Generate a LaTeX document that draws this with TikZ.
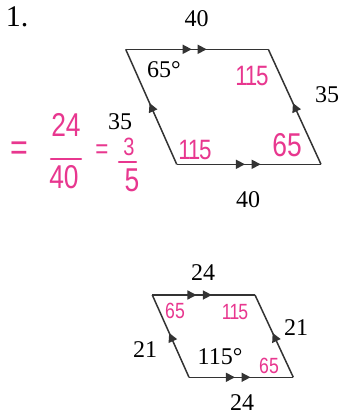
\documentclass[tikz,border=0pt]{standalone}
\usepackage{fontspec}
\setmainfont{Liberation Serif}
\newfontfamily\hand[FakeStretch=0.8]{Liberation Sans}
\usetikzlibrary{arrows.meta,decorations.markings}
\definecolor{ink}{HTML}{333333}
\definecolor{pen}{HTML}{E8378F}
\tikzset{
  side/.style={draw=ink, line width=1.5pt},
  mkone/.style={postaction={decorate,decoration={markings,
     mark=at position #1 with {\arrow[ink]{Triangle[length=9pt,width=9pt]}}}}},
  mktwo/.style 2 args={postaction={decorate,decoration={markings,
     mark=at position #1 with {\arrow[ink]{Triangle[length=9pt,width=9pt]}},
     mark=at position #2 with {\arrow[ink]{Triangle[length=9pt,width=9pt]}}}}},
  lab/.style={inner sep=0pt, text=black, font=\fontsize{24}{26}\selectfont},
  penbig/.style={inner sep=0pt, text=pen, font=\hand\fontsize{33}{35}\selectfont},
  penmid/.style={inner sep=0pt, text=pen, font=\hand\fontsize{28}{30}\selectfont},
  pensmall/.style={inner sep=0pt, text=pen, font=\hand\fontsize{22}{24}\selectfont},
  penline/.style={draw=pen, line width=2.4pt, line cap=round},
}
\begin{document}
\begin{tikzpicture}[x=1pt,y=-1pt]
\useasboundingbox (0,0) rectangle (341,417);
\fill[white] (0,0) rectangle (341,417);

\node[inner sep=0pt, font=\fontsize{30}{32}\selectfont] (num) at (17,17) {1.};

% top parallelogram
\coordinate (A) at (125.7,49.3);
\coordinate (B) at (268.3,49.3);
\coordinate (C) at (321,164.3);
\coordinate (D) at (176.7,164.3);
\draw[side, mktwo={0.463}{0.568}] (A) -- (B);
\draw[side, mktwo={0.473}{0.582}] (D) -- (C);
\draw[side, mkone={0.533}] (D) -- (A);
\draw[side, mkone={0.533}] (C) -- (B);

\node[lab] (t40a) at (196.7,18.5) {40};
\node[lab] (t40b) at (248,200) {40};
\node[lab] (t35r) at (327,95) {35};
\node[lab] (t35l) at (120,122) {35};
\node[lab] (t65) at (164,70) {65°};

\node[penmid] (p115a) at (252,76) {1\kern-3pt1\kern-1pt5};
\node[penmid] (p115b) at (195,150) {1\kern-3pt1\kern-1pt5};
\node[penbig] (p65a) at (287,145) {65};

% pink ratio
\node[inner sep=0pt, text=pen, font=\hand\fontsize{38}{40}\selectfont] (eqa) at (19,151) {=};
\node[penbig] (n24) at (66,125) {24};
\draw[penline] (51,159) -- (81,159);
\node[penbig] (n40) at (64,177) {40};
\node[penmid] (eqb) at (102,152) {=};
\node[inner sep=0pt, text=pen, font=\hand\fontsize{25}{27}\selectfont] (n3) at (129,147) {3};
\draw[penline] (119,162) -- (136,162);
\node[penbig] (n5) at (132,180) {5};

% bottom parallelogram
\coordinate (E) at (152.3,295);
\coordinate (F) at (255,295);
\coordinate (G) at (293.3,377.3);
\coordinate (H) at (189,377.3);
\draw[side, mktwo={0.43}{0.58}] (E) -- (F);
\draw[side, mktwo={0.44}{0.59}] (H) -- (G);
\draw[side, mkone={0.54}] (H) -- (E);
\draw[side, mkone={0.54}] (G) -- (F);

\node[lab] (b24a) at (203,273) {24};
\node[lab] (b24b) at (242,403) {24};
\node[lab] (b21r) at (296,328) {21};
\node[lab] (b21l) at (145,350) {21};
\node[lab] (b115) at (220,357) {115°};

\node[pensmall] (q65a) at (175,311) {65};
\node[pensmall] (q115) at (235,312) {1\kern-2pt1\kern-1pt5};
\node[pensmall] (q65b) at (269,366) {65};
\end{tikzpicture}
\end{document}
